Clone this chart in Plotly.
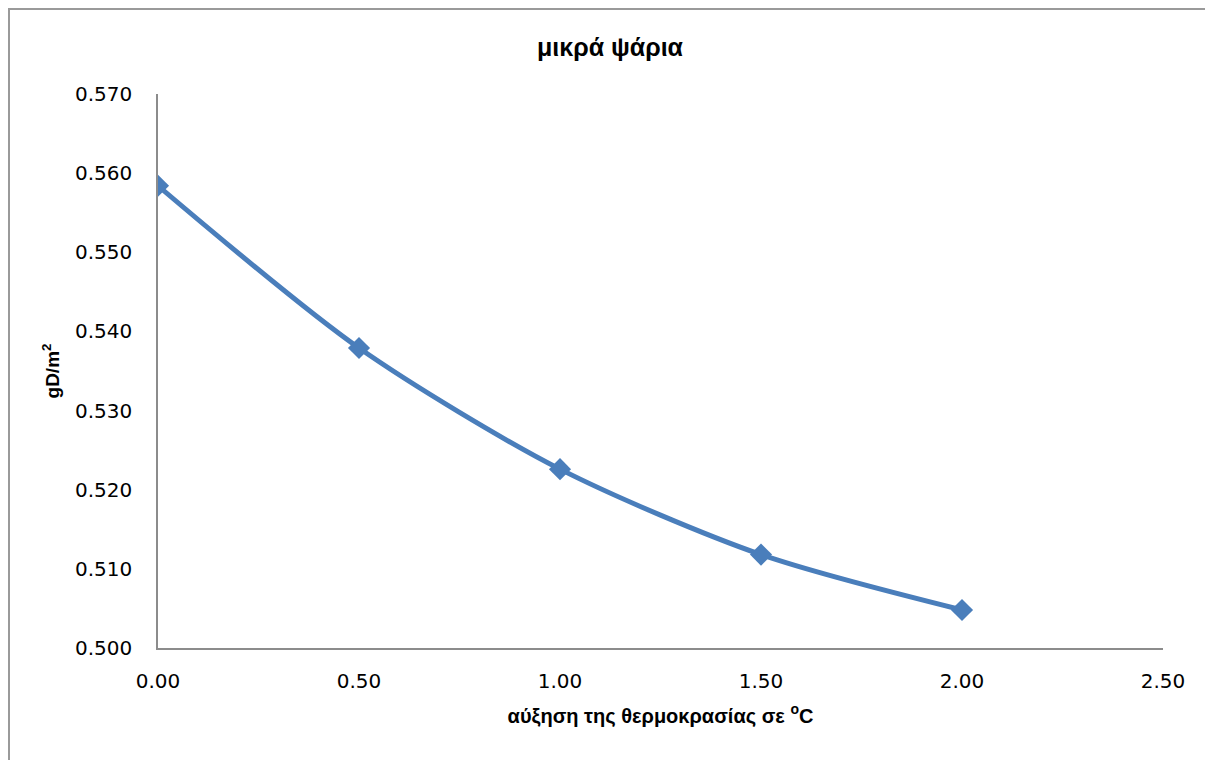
import plotly.graph_objects as go

x_vals = [0.0, 0.5, 1.0, 1.5, 2.0]
y_vals = [0.5584, 0.5379, 0.5226, 0.5118, 0.5048]
x_ticks = [0.0, 0.5, 1.0, 1.5, 2.0, 2.5]
y_ticks = [0.50, 0.51, 0.52, 0.53, 0.54, 0.55, 0.56, 0.57]

title_text = "μικρά ψάρια"
x_title = "αύξηση της θερμοκρασίας σε <sup>o</sup>C"
y_title = "gD/m<sup>2</sup>"

W, H = 1205, 752
L, R, T, B = 150, 50, 86, 112
PW, PH = W - L - R, H - T - B

fig = go.Figure()
fig.add_trace(go.Scatter(
    x=x_vals, y=y_vals, mode="lines+markers",
    line=dict(color="#4A7EBB", width=5, shape="spline", smoothing=0.8),
    marker=dict(symbol="diamond", size=17, color="#4A7EBB"),
    showlegend=False,
))

fig.update_layout(
    width=W, height=H,
    margin=dict(l=L, r=R, t=T, b=B),
    paper_bgcolor="white", plot_bgcolor="white",
    title=dict(text="<b>" + title_text + "</b>", x=(602) / W, xanchor="center",
               y=1 - 39 / H, yanchor="middle",
               font=dict(family="Liberation Sans, Arial", size=25, color="black")),
    xaxis=dict(
        range=[0, 2.5], tickvals=x_ticks, ticktext=[f"{v:.2f}" for v in x_ticks],
        showgrid=False, zeroline=False, showline=True, linecolor="#8C8C8C", linewidth=1.5,
        ticks="outside", ticklen=14, tickcolor="rgba(0,0,0,0)",
        tickfont=dict(family="DejaVu Sans", size=20, color="black"),
        title=dict(text="<b>" + x_title + "</b>", standoff=17,
                   font=dict(family="Liberation Sans, Arial", size=20, color="black")),
    ),
    yaxis=dict(
        range=[0.50, 0.57], tickvals=y_ticks, ticktext=[f"{v:.3f}" for v in y_ticks],
        showgrid=False, zeroline=False, showline=True, linecolor="#8C8C8C", linewidth=1.5,
        ticks="outside", ticklen=20, tickcolor="rgba(0,0,0,0)",
        tickfont=dict(family="DejaVu Sans", size=20, color="black"),
        title=dict(text="<b>" + y_title + "</b>", standoff=10,
                   font=dict(family="Liberation Sans, Arial", size=19, color="black")),
    ),
    shapes=[dict(type="rect", xref="paper", yref="paper",
                 x0=-(L - 1) / PW, x1=(W - L - 2) / PW, y0=-0.3, y1=1 + (T - 1) / PH,
                 line=dict(color="#9A9A9A", width=2), layer="below")],
)

fig.write_html("out.html")
